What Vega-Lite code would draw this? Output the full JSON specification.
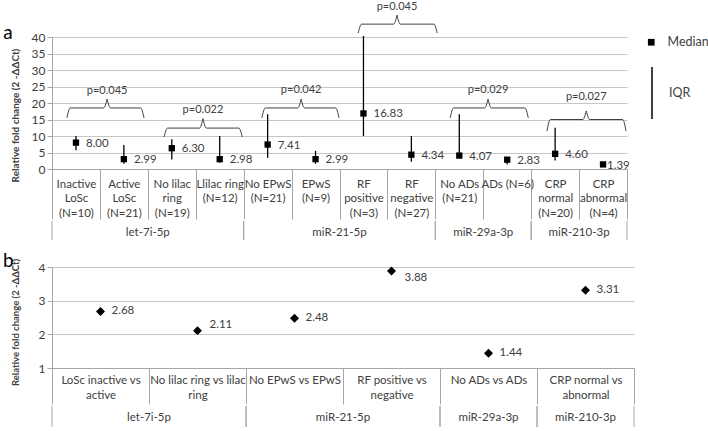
{
  "$schema": "https://vega.github.io/schema/vega-lite/v6.json",
  "padding": {"left": 3, "top": 1, "right": 0, "bottom": 0},
  "background": "white",
  "spacing": 11,
  "config": {
    "font": "Lato",
    "view": {"stroke": null},
    "axis": {"labelFont": "Lato", "titleFont": "Lato", "labelColor": "#404040", "titleColor": "#404040", "domainColor": "#a6a6a6", "tickColor": "#a6a6a6", "gridColor": "#c6c6c6"},
    "text": {"font": "Lato", "color": "#404040"},
    "legend": {"labelFont": "Lato", "labelColor": "#404040", "padding": 0},
    "title": {"font": "Lato"}
  },
  "datasets": {
    "catA": [
      {"cat": "Inactive|LoSc|(N=10)", "group": "let-7i-5p", "median": 8.00, "q1": 5.7, "q3": 10.0},
      {"cat": "Active|LoSc|(N=21)", "group": "let-7i-5p", "median": 2.99, "q1": 1.6, "q3": 7.3},
      {"cat": "No lilac|ring|(N=19)", "group": "let-7i-5p", "median": 6.30, "q1": 2.9, "q3": 9.0},
      {"cat": "Llilac ring|(N=12)", "group": "let-7i-5p", "median": 2.98, "q1": 1.9, "q3": 10.0},
      {"cat": "No EPwS|(N=21)", "group": "miR-21-5p", "median": 7.41, "q1": 3.4, "q3": 16.6},
      {"cat": "EPwS|(N=9)", "group": "miR-21-5p", "median": 2.99, "q1": 1.6, "q3": 5.5},
      {"cat": "RF|positive|(N=3)", "group": "miR-21-5p", "median": 16.83, "q1": 10.0, "q3": 40.3},
      {"cat": "RF|negative|(N=27)", "group": "miR-21-5p", "median": 4.34, "q1": 2.2, "q3": 10.0},
      {"cat": "No ADs|(N=21)", "group": "miR-29a-3p", "median": 4.07, "q1": 3.7, "q3": 16.6},
      {"cat": "ADs (N=6)", "group": "miR-29a-3p", "median": 2.83, "q1": 1.4, "q3": 3.6},
      {"cat": "CRP|normal|(N=20)", "group": "miR-210-3p", "median": 4.60, "q1": 2.6, "q3": 12.5},
      {"cat": "CRP|abnormal|(N=4)", "group": "miR-210-3p", "median": 1.39, "q1": 1.2, "q3": 1.6}
    ],
    "bracketA": [
      {"b": "1a", "x": 0.31, "y": 15.5}, {"b": "1a", "x": 0.38, "y": 18.5}, {"b": "1a", "x": 1.08, "y": 18.5}, {"b": "1a", "x": 1.15, "y": 21.2},
      {"b": "1b", "x": 1.15, "y": 21.2}, {"b": "1b", "x": 1.22, "y": 18.5}, {"b": "1b", "x": 1.85, "y": 18.5}, {"b": "1b", "x": 1.92, "y": 15.5},
      {"b": "2a", "x": 2.34, "y": 9.7}, {"b": "2a", "x": 2.41, "y": 12.4}, {"b": "2a", "x": 3.08, "y": 12.4}, {"b": "2a", "x": 3.15, "y": 15.3},
      {"b": "2b", "x": 3.15, "y": 15.3}, {"b": "2b", "x": 3.22, "y": 12.4}, {"b": "2b", "x": 3.90, "y": 12.4}, {"b": "2b", "x": 3.97, "y": 9.7},
      {"b": "3a", "x": 4.38, "y": 15.5}, {"b": "3a", "x": 4.45, "y": 18.5}, {"b": "3a", "x": 5.13, "y": 18.5}, {"b": "3a", "x": 5.20, "y": 21.2},
      {"b": "3b", "x": 5.20, "y": 21.2}, {"b": "3b", "x": 5.27, "y": 18.5}, {"b": "3b", "x": 5.92, "y": 18.5}, {"b": "3b", "x": 5.99, "y": 15.5},
      {"b": "4a", "x": 6.39, "y": 41.2}, {"b": "4a", "x": 6.46, "y": 43.9}, {"b": "4a", "x": 7.13, "y": 43.9}, {"b": "4a", "x": 7.20, "y": 46.6},
      {"b": "4b", "x": 7.20, "y": 46.6}, {"b": "4b", "x": 7.27, "y": 43.9}, {"b": "4b", "x": 7.97, "y": 43.9}, {"b": "4b", "x": 8.04, "y": 41.2},
      {"b": "5a", "x": 8.31, "y": 15.5}, {"b": "5a", "x": 8.38, "y": 18.5}, {"b": "5a", "x": 9.03, "y": 18.5}, {"b": "5a", "x": 9.10, "y": 21.2},
      {"b": "5b", "x": 9.10, "y": 21.2}, {"b": "5b", "x": 9.17, "y": 18.5}, {"b": "5b", "x": 9.87, "y": 18.5}, {"b": "5b", "x": 9.94, "y": 15.5},
      {"b": "6a", "x": 10.33, "y": 11.5}, {"b": "6a", "x": 10.40, "y": 15.0}, {"b": "6a", "x": 11.08, "y": 15.0}, {"b": "6a", "x": 11.15, "y": 17.6},
      {"b": "6b", "x": 11.15, "y": 17.6}, {"b": "6b", "x": 11.22, "y": 15.0}, {"b": "6b", "x": 11.91, "y": 15.0}, {"b": "6b", "x": 11.98, "y": 11.5}
    ],
    "pvalA": [
      {"p": "p=0.045", "x": 1.15, "y": 23.7},
      {"p": "p=0.022", "x": 3.15, "y": 17.9},
      {"p": "p=0.042", "x": 5.20, "y": 23.8},
      {"p": "p=0.045", "x": 7.20, "y": 49.0},
      {"p": "p=0.029", "x": 9.10, "y": 23.8},
      {"p": "p=0.027", "x": 11.15, "y": 21.8}
    ],
    "groupA": [
      {"group": "let-7i-5p", "start": 0, "end": 4},
      {"group": "miR-21-5p", "start": 4, "end": 8},
      {"group": "miR-29a-3p", "start": 8, "end": 10},
      {"group": "miR-210-3p", "start": 10, "end": 12}
    ],
    "catB": [
      {"cat": "LoSc inactive vs|active", "group": "let-7i-5p", "fc": 2.68},
      {"cat": "No lilac ring vs lilac|ring", "group": "let-7i-5p", "fc": 2.11},
      {"cat": "No EPwS vs EPwS", "group": "miR-21-5p", "fc": 2.48},
      {"cat": "RF positive vs|negative", "group": "miR-21-5p", "fc": 3.88},
      {"cat": "No ADs vs ADs", "group": "miR-29a-3p", "fc": 1.44},
      {"cat": "CRP normal vs|abnormal", "group": "miR-210-3p", "fc": 3.31}
    ],
    "groupB": [
      {"group": "let-7i-5p", "start": 0, "end": 2},
      {"group": "miR-21-5p", "start": 2, "end": 4},
      {"group": "miR-29a-3p", "start": 4, "end": 5},
      {"group": "miR-210-3p", "start": 5, "end": 6}
    ]
  },
  "vconcat": [
    {
      "spacing": 0,
      "vconcat": [
        {
          "width": 575,
          "height": 132,
          "resolve": {"scale": {"x": "independent"}, "axis": {"x": "independent"}},
          "layer": [
            {
              "data": {"name": "catA"},
              "layer": [
                {
                  "mark": {"type": "rule", "strokeWidth": 1.3},
                  "encoding": {
                    "x": {"field": "cat", "type": "nominal", "sort": null, "scale": {"paddingInner": 0, "paddingOuter": 0},
                      "axis": {"title": null, "labelAngle": 0, "tickBand": "extent", "tickSize": 50, "labelExpr": "split(datum.label, '|')", "labelBaseline": "top", "labelPadding": -41, "labelLineHeight": 14.5, "labelFontSize": 11.5, "labelAlign": "center", "labelOverlap": false, "labelLimit": 0, "grid": false}},
                    "y": {"field": "q1", "type": "quantitative", "scale": {"domain": [0, 40], "nice": false, "zero": false},
                      "axis": {"values": [0, 5, 10, 15, 20, 25, 30, 35, 40], "tickCount": 20, "format": "d", "labelOverlap": false, "tickSize": 5, "labelPadding": 2, "labelFontSize": 12, "title": "Relative fold change  (2 -ΔΔCt)", "titleFontSize": 10, "titleFontWeight": "bold", "titlePadding": 4, "titleY": 78, "minExtent": 28, "maxExtent": 28, "grid": true}},
                    "y2": {"field": "q3"},
                    "color": {"datum": "IQR", "scale": {"domain": ["IQR"], "range": ["black"]},
                      "legend": {"orient": "none", "legendX": 573, "legendY": 29, "title": null, "symbolType": "M0,-1L0,1", "symbolSize": 2704, "symbolStrokeWidth": 1.5, "labelFontSize": 12.5, "labelOffset": -10,
                        "encode": {"symbols": {"update": {"stroke": {"value": "#808080"}}}}}}
                  }
                },
                {
                  "mark": {"type": "point", "filled": true, "size": 40, "color": "black", "opacity": 1},
                  "encoding": {
                    "x": {"field": "cat", "type": "nominal", "sort": null},
                    "y": {"field": "median", "type": "quantitative"},
                    "shape": {"datum": "Median", "scale": {"domain": ["Median"], "range": ["square"]},
                      "legend": {"orient": "none", "legendX": 593, "legendY": -1, "title": null, "symbolSize": 45, "labelFontSize": 12.5, "labelOffset": 10,
                        "encode": {"symbols": {"update": {"fill": {"value": "black"}, "stroke": {"value": "black"}, "strokeWidth": {"value": 0}}}}}}
                  }
                },
                {
                  "transform": [{"filter": "datum.median >= 2"}],
                  "mark": {"type": "text", "align": "left", "baseline": "middle", "dx": 10, "dy": 1, "fontSize": 11.5},
                  "encoding": {
                    "x": {"field": "cat", "type": "nominal", "sort": null},
                    "y": {"field": "median", "type": "quantitative"},
                    "text": {"field": "median", "type": "quantitative", "format": ".2f"}
                  }
                },
                {
                  "transform": [{"filter": "datum.median < 2"}],
                  "mark": {"type": "text", "align": "left", "baseline": "middle", "dx": 4, "dy": 2, "fontSize": 11.5},
                  "encoding": {
                    "x": {"field": "cat", "type": "nominal", "sort": null},
                    "y": {"field": "median", "type": "quantitative"},
                    "text": {"field": "median", "type": "quantitative", "format": ".2f"}
                  }
                }
              ]
            },
            {
              "layer": [
                {
                  "data": {"name": "bracketA"},
                  "mark": {"type": "line", "interpolate": "monotone", "color": "#404040", "strokeWidth": 1, "clip": false},
                  "encoding": {
                    "x": {"field": "x", "type": "quantitative", "scale": {"domain": [0, 12], "nice": false, "zero": false}, "axis": null},
                    "y": {"field": "y", "type": "quantitative", "scale": {"domain": [0, 40], "nice": false, "zero": false}},
                    "detail": {"field": "b"}
                  }
                },
                {
                  "data": {"name": "pvalA"},
                  "mark": {"type": "text", "align": "center", "baseline": "middle", "fontSize": 11, "clip": false},
                  "encoding": {
                    "x": {"field": "x", "type": "quantitative"},
                    "y": {"field": "y", "type": "quantitative"},
                    "text": {"field": "p"}
                  }
                },
                {
                  "data": {"values": [{"panel": "a"}]},
                  "mark": {"type": "text", "align": "left", "baseline": "alphabetic", "fontSize": 19, "color": "#000000", "clip": false},
                  "encoding": {
                    "x": {"datum": -1.02, "type": "quantitative"},
                    "y": {"datum": 39.4, "type": "quantitative"},
                    "text": {"field": "panel"}
                  }
                }
              ]
            }
          ]
        },
        {
          "width": 575,
          "height": 19,
          "data": {"name": "groupA"},
          "layer": [
            {"mark": {"type": "rule", "color": "#a6a6a6"}, "encoding": {"x": {"field": "start", "type": "quantitative", "scale": {"domain": [0, 12], "nice": false, "zero": false}, "axis": null}}},
            {"mark": {"type": "rule", "color": "#a6a6a6"}, "encoding": {"x": {"field": "end", "type": "quantitative"}}},
            {
              "transform": [{"fold": ["start", "end"], "as": ["k", "v"]}, {"aggregate": [{"op": "mean", "field": "v", "as": "mid"}], "groupby": ["group"]}],
              "mark": {"type": "text", "baseline": "middle", "fontSize": 11.5, "dy": 2},
              "encoding": {"x": {"field": "mid", "type": "quantitative"}, "text": {"field": "group"}}
            }
          ]
        }
      ]
    },
    {
      "spacing": 0,
      "vconcat": [
        {
          "width": 582,
          "height": 101,
          "resolve": {"scale": {"x": "independent"}, "axis": {"x": "independent"}},
          "layer": [
            {
              "data": {"name": "catB"},
              "layer": [
                {
                  "mark": {"type": "point", "shape": "diamond", "filled": true, "size": 80, "color": "black", "opacity": 1},
                  "encoding": {
                    "x": {"field": "cat", "type": "nominal", "sort": null, "scale": {"paddingInner": 0, "paddingOuter": 0},
                      "axis": {"title": null, "labelAngle": 0, "tickBand": "extent", "tickSize": 36, "labelExpr": "split(datum.label, '|')", "labelBaseline": "top", "labelPadding": -30, "labelLineHeight": 15, "labelFontSize": 11.5, "labelAlign": "center", "labelOverlap": false, "labelLimit": 0, "grid": false}},
                    "y": {"field": "fc", "type": "quantitative", "scale": {"domain": [1, 4], "nice": false, "zero": false},
                      "axis": {"values": [1, 2, 3, 4], "tickCount": 20, "format": "d", "labelOverlap": false, "tickSize": 5, "labelPadding": 2, "labelFontSize": 12, "title": "Relative fold change (2 -ΔΔCt)", "titleFontSize": 9.5, "titleFontWeight": "bold", "titlePadding": 4, "titleY": 55, "minExtent": 28, "maxExtent": 28, "grid": true}}
                  }
                },
                {
                  "transform": [{"filter": "datum.fc != 2.11 && datum.fc != 3.88"}],
                  "mark": {"type": "text", "align": "left", "baseline": "middle", "dx": 11, "fontSize": 11.5},
                  "encoding": {
                    "x": {"field": "cat", "type": "nominal", "sort": null},
                    "y": {"field": "fc", "type": "quantitative"},
                    "text": {"field": "fc", "type": "quantitative", "format": ".2f"}
                  }
                },
                {
                  "transform": [{"filter": "datum.fc == 2.11"}],
                  "mark": {"type": "text", "align": "left", "baseline": "middle", "dx": 12, "dy": -6, "fontSize": 11.5},
                  "encoding": {
                    "x": {"field": "cat", "type": "nominal", "sort": null},
                    "y": {"field": "fc", "type": "quantitative"},
                    "text": {"field": "fc", "type": "quantitative", "format": ".2f"}
                  }
                },
                {
                  "transform": [{"filter": "datum.fc == 3.88"}],
                  "mark": {"type": "text", "align": "left", "baseline": "middle", "dx": 13, "dy": 7, "fontSize": 11.5},
                  "encoding": {
                    "x": {"field": "cat", "type": "nominal", "sort": null},
                    "y": {"field": "fc", "type": "quantitative"},
                    "text": {"field": "fc", "type": "quantitative", "format": ".2f"}
                  }
                }
              ]
            },
            {
              "data": {"values": [{"panel": "b"}]},
              "mark": {"type": "text", "align": "left", "baseline": "alphabetic", "fontSize": 19, "color": "#000000", "clip": false},
              "encoding": {
                "x": {"datum": -0.505, "type": "quantitative", "scale": {"domain": [0, 6], "nice": false, "zero": false}, "axis": null},
                "y": {"datum": 4.0, "type": "quantitative"},
                "text": {"field": "panel"}
              }
            }
          ]
        },
        {
          "width": 582,
          "height": 21,
          "data": {"name": "groupB"},
          "layer": [
            {"mark": {"type": "rule", "color": "#a6a6a6"}, "encoding": {"x": {"field": "start", "type": "quantitative", "scale": {"domain": [0, 6], "nice": false, "zero": false}, "axis": null}}},
            {"mark": {"type": "rule", "color": "#a6a6a6"}, "encoding": {"x": {"field": "end", "type": "quantitative"}}},
            {
              "transform": [{"fold": ["start", "end"], "as": ["k", "v"]}, {"aggregate": [{"op": "mean", "field": "v", "as": "mid"}], "groupby": ["group"]}],
              "mark": {"type": "text", "baseline": "middle", "fontSize": 11.5, "dy": 1},
              "encoding": {"x": {"field": "mid", "type": "quantitative"}, "text": {"field": "group"}}
            }
          ]
        }
      ]
    }
  ]
}
